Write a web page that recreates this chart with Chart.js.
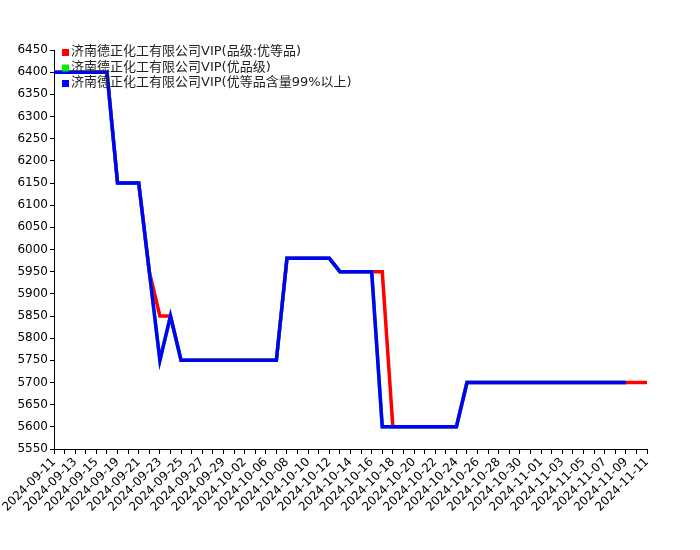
<!DOCTYPE html>
<html>
<head>
<meta charset="utf-8">
<script src="https://cdn.jsdelivr.net/npm/chart.js@4/dist/chart.umd.min.js"></script>
<style>
  html, body { margin: 0; padding: 0; background: #fff; }
  #wrap { width: 700px; height: 550px; }
</style>
</head>
<body>
<div id="wrap"><canvas id="chart" width="700" height="550"></canvas></div>
<script>
// Dates (every other one is labelled on the axis)
const dates = [
    '2024-09-11', '2024-09-12', '2024-09-13', '2024-09-14', '2024-09-15', '2024-09-18',
    '2024-09-19', '2024-09-20', '2024-09-21', '2024-09-22', '2024-09-23', '2024-09-24',
    '2024-09-25', '2024-09-26', '2024-09-27', '2024-09-28', '2024-09-29', '2024-09-30',
    '2024-10-02', '2024-10-05', '2024-10-06', '2024-10-07', '2024-10-08', '2024-10-09',
    '2024-10-10', '2024-10-11', '2024-10-12', '2024-10-13', '2024-10-14', '2024-10-15',
    '2024-10-16', '2024-10-17', '2024-10-18', '2024-10-19', '2024-10-20', '2024-10-21',
    '2024-10-22', '2024-10-23', '2024-10-24', '2024-10-25', '2024-10-26', '2024-10-27',
    '2024-10-28', '2024-10-29', '2024-10-30', '2024-10-31', '2024-11-01', '2024-11-02',
    '2024-11-03', '2024-11-04', '2024-11-05', '2024-11-06', '2024-11-07', '2024-11-08',
    '2024-11-09', '2024-11-10', '2024-11-11'
];

const seriesNames = [
    '济南德正化工有限公司VIP(品级:优等品)',
    '济南德正化工有限公司VIP(优品级)',
    '济南德正化工有限公司VIP(优等品含量99%以上)'
];
const seriesColors = ['#ff0000', '#00ee00', '#0000ff'];

const redValues = [
    6400, 6400, 6400, 6400, 6400, 6400,
    6150, 6150, 6150, 5950, 5850, 5850,
    5750, 5750, 5750, 5750, 5750, 5750,
    5750, 5750, 5750, 5750, 5980, 5980,
    5980, 5980, 5980, 5950, 5950, 5950,
    5950, 5950, 5600, 5600, 5600, 5600,
    5600, 5600, 5600, 5700, 5700, 5700,
    5700, 5700, 5700, 5700, 5700, 5700,
    5700, 5700, 5700, 5700, 5700, 5700,
    5700, 5700, 5700
];

const greenValues = [
    6400, 6400, 6400, 6400, 6400, 6400,
    6150, 6150, 6150, 5950, 5750, 5850,
    5750, 5750, 5750, 5750, 5750, 5750,
    5750, 5750, 5750, 5750, 5980, 5980,
    5980, 5980, 5980, 5950, 5950, 5950,
    5950, 5600, 5600, 5600, 5600, 5600,
    5600, 5600, 5600, 5700, 5700, 5700,
    5700, 5700, 5700, 5700, 5700, 5700,
    5700, 5700, 5700, 5700, 5700, 5700,
    5700, null, null
];

const blueValues = [
    6400, 6400, 6400, 6400, 6400, 6400,
    6150, 6150, 6150, 5950, 5750, 5850,
    5750, 5750, 5750, 5750, 5750, 5750,
    5750, 5750, 5750, 5750, 5980, 5980,
    5980, 5980, 5980, 5950, 5950, 5950,
    5950, 5600, 5600, 5600, 5600, 5600,
    5600, 5600, 5600, 5700, 5700, 5700,
    5700, 5700, 5700, 5700, 5700, 5700,
    5700, 5700, 5700, 5700, 5700, 5700,
    5700, null, null
];

const yMin = 5550;
const yMax = 6450;
const yStep = 50;

const tickFont = { family: 'DejaVu Sans', size: 12 };

// Legend drawn inside the plot, top-left
const insideLegend = {
    id: 'insideLegend',
    afterDraw(chart) {
        const ctx = chart.ctx;
        const left = chart.chartArea.left + 8;
        const top = chart.chartArea.top + 2;
        ctx.save();
        ctx.font = '13px "DejaVu Sans", "Noto Sans CJK SC"';
        ctx.textBaseline = 'middle';
        seriesNames.forEach((name, i) => {
            const y = top + i * 15.5;
            ctx.fillStyle = seriesColors[i];
            ctx.fillRect(left, y - 3, 7, 7);
            ctx.fillStyle = '#222';
            ctx.fillText(name, left + 9, y);
        });
        ctx.restore();
    }
};

// blue on top, then green, red underneath
const drawOrder = [2, 1, 0];

const datasets = [redValues, greenValues, blueValues].map((vals, i) => ({
    label: seriesNames[i],
    data: vals,
    order: drawOrder[i],
    borderColor: seriesColors[i],
    backgroundColor: seriesColors[i],
    borderWidth: 3.5,
    pointRadius: 0,
    tension: 0,
    fill: false,
    spanGaps: false
}));

new Chart(document.getElementById('chart'), {
    type: 'line',
    data: { labels: dates, datasets: datasets },
    options: {
        responsive: false,
        animation: false,
        layout: { padding: { top: 50, right: 53, left: 0, bottom: 0 } },
        plugins: {
            legend: { display: false },
            tooltip: { enabled: false }
        },
        scales: {
            x: {
                offset: false,
                border: { color: '#000', width: 1 },
                grid: { drawOnChartArea: false, color: '#000', tickLength: 5 },
                ticks: {
                    color: '#000',
                    font: tickFont,
                    autoSkip: false,
                    maxRotation: 45,
                    minRotation: 45,
                    padding: 1,
                    callback: (v, i) => (i % 2 === 0 ? dates[i] : '')
                },
                afterFit: (axis) => { axis.height = 101; }
            },
            y: {
                min: yMin,
                max: yMax,
                border: { color: '#000', width: 1 },
                grid: { drawOnChartArea: false, color: '#000', tickLength: 4 },
                ticks: {
                    color: '#000',
                    font: tickFont,
                    stepSize: yStep,
                    padding: 2,
                    callback: (v) => String(v)
                },
                afterFit: (axis) => { axis.width = 54; }
            }
        }
    },
    plugins: [insideLegend]
});
</script>
</body>
</html>
